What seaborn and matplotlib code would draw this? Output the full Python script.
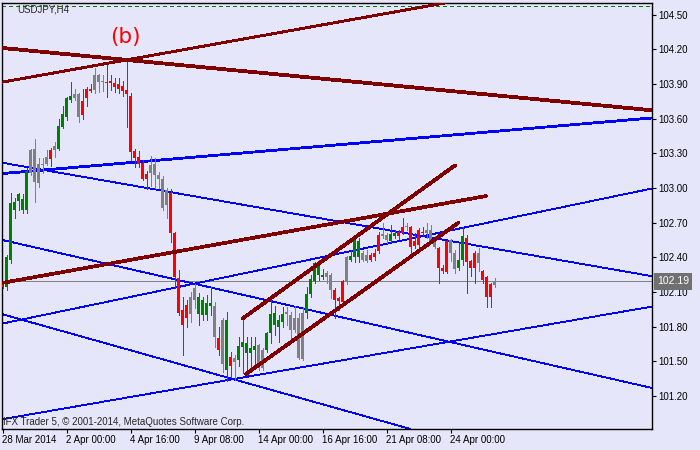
import matplotlib
matplotlib.use("Agg")
import matplotlib.pyplot as plt
import matplotlib.transforms as mtransforms
import numpy as np
import pandas as pd
import seaborn as sns

BG = "#E6E6FA"
sns.set_style("ticks", {"axes.facecolor": BG, "figure.facecolor": BG,
                        "axes.edgecolor": "black"})
plt.rcParams["font.family"] = ["Liberation Sans", "DejaVu Sans"]

# ---------------- data ----------------
symbol = "USDJPY,H4"
wave_label = "(b)"
wave_label_pos = (30.6, 104.304)
copyright_text = "IFX Trader 5, \u00a9 2001-2014, MetaQuotes Software Corp."
last_price = 102.19
top_dashed_level = 104.572

x_tick_bars = [0, 16, 32, 48, 64, 80, 96, 112]
x_tick_labels = ["28 Mar 2014", "2 Apr 00:00", "4 Apr 16:00", "9 Apr 08:00",
                 "14 Apr 00:00", "16 Apr 16:00", "21 Apr 08:00", "24 Apr 00:00"]
y_ticks = [104.50, 104.20, 103.90, 103.60, 103.30, 103.00,
           102.70, 102.40, 102.10, 101.80, 101.50, 101.20]

opens = [102.17, 102.14, 102.38, 102.81, 102.89, 102.81, 102.81, 103.33, 103.34, 103.21,
         103.21, 103.27, 103.33, 103.36, 103.34, 103.53, 103.61, 103.76, 103.81, 103.81,
         103.75, 103.86, 103.86, 103.98, 103.98, 103.93, 103.92, 103.93, 103.91, 103.90,
         103.88, 103.85, 103.80, 103.32, 103.27, 103.22, 103.12, 103.20, 103.21, 103.11,
         103.08, 102.98, 102.96, 102.61, 102.22, 101.94, 101.99, 102.06, 102.13, 101.91,
         101.90, 101.90, 101.98, 101.98, 101.70, 101.86, 101.42, 101.54, 101.53, 101.51,
         101.62, 101.57, 101.57, 101.60, 101.64, 101.60, 101.60, 101.74, 101.81, 101.80,
         101.84, 101.93, 101.90, 101.87, 101.87, 101.92, 101.92, 102.08, 102.19, 102.25,
         102.23, 102.26, 102.25, 102.12, 102.05, 102.19, 102.40, 102.38, 102.40, 102.40,
         102.44, 102.42, 102.42, 102.44, 102.59, 102.60, 102.59, 102.54, 102.58, 102.62,
         102.66, 102.67, 102.66, 102.54, 102.64, 102.62, 102.64, 102.64, 102.57, 102.48,
         102.31, 102.54, 102.55, 102.44, 102.31, 102.38, 102.57, 102.37, 102.44, 102.44,
         102.28, 102.23, 102.17, 102.16]
closes = [102.14, 102.40, 102.87, 102.88, 102.95, 102.90, 103.15, 103.13, 103.05, 103.04,
          103.20, 103.21, 103.25, 103.33, 103.54, 103.64, 103.78, 103.80, 103.78, 103.61,
          103.63, 103.78, 103.84, 103.85, 103.92, 103.92, 103.91, 103.91, 103.87, 103.86,
          103.84, 103.81, 103.31, 103.26, 103.21, 103.08, 103.08, 103.13, 103.11, 103.08,
          102.83, 102.85, 102.61, 102.23, 101.92, 101.81, 101.87, 101.91, 102.03, 102.06,
          102.03, 102.00, 102.00, 101.71, 101.60, 101.48, 101.86, 101.46, 101.49, 101.63,
          101.67, 101.66, 101.61, 101.63, 101.45, 101.44, 101.74, 101.91, 101.92, 101.86,
          101.91, 101.91, 101.77, 101.77, 101.53, 101.52, 102.08, 102.21, 102.35, 102.35,
          102.25, 102.23, 102.12, 102.03, 102.02, 102.01, 102.19, 102.41, 102.56, 102.54,
          102.38, 102.37, 102.38, 102.40, 102.45, 102.58, 102.55, 102.60, 102.61, 102.58,
          102.61, 102.66, 102.49, 102.50, 102.51, 102.61, 102.61, 102.54, 102.49, 102.31,
          102.28, 102.27, 102.44, 102.30, 102.38, 102.58, 102.36, 102.31, 102.31, 102.35,
          102.20, 102.06, 102.06, 102.19]
highs = [102.18, 102.42, 102.96, 102.91, 102.96, 102.95, 103.17, 103.34, 103.42, 103.26,
         103.26, 103.33, 103.35, 103.40, 103.60, 103.71, 103.79, 103.92, 103.86, 103.82,
         103.86, 103.87, 103.90, 104.04, 103.99, 103.98, 104.09, 103.98, 103.95, 103.95,
         103.93, 104.11, 103.82, 103.34, 103.32, 103.24, 103.15, 103.28, 103.26, 103.14,
         103.10, 103.00, 102.99, 102.62, 102.29, 102.06, 102.03, 102.10, 102.17, 102.09,
         102.06, 102.07, 102.14, 102.01, 101.80, 101.87, 101.93, 101.58, 101.55, 101.71,
         101.87, 101.71, 101.71, 101.71, 101.65, 101.61, 101.75, 102.03, 101.98, 101.90,
         101.97, 101.97, 101.93, 101.98, 101.92, 101.97, 102.14, 102.25, 102.36, 102.38,
         102.30, 102.28, 102.26, 102.13, 102.06, 102.20, 102.41, 102.46, 102.57, 102.57,
         102.45, 102.46, 102.44, 102.47, 102.62, 102.70, 102.61, 102.68, 102.64, 102.64,
         102.74, 102.70, 102.67, 102.61, 102.65, 102.66, 102.70, 102.68, 102.58, 102.49,
         102.33, 102.55, 102.56, 102.46, 102.52, 102.66, 102.59, 102.38, 102.45, 102.48,
         102.29, 102.24, 102.18, 102.22]
lows = [102.13, 102.12, 102.35, 102.74, 102.81, 102.78, 102.78, 103.11, 102.88, 103.01,
        103.13, 103.20, 103.19, 103.27, 103.33, 103.52, 103.59, 103.74, 103.76, 103.57,
        103.60, 103.71, 103.83, 103.82, 103.83, 103.84, 103.79, 103.85, 103.83, 103.82,
        103.80, 103.53, 103.24, 103.18, 103.18, 103.07, 102.99, 103.02, 103.00, 103.00,
        102.81, 102.74, 102.53, 102.13, 101.90, 101.55, 101.80, 101.84, 101.96, 101.81,
        101.86, 101.86, 101.90, 101.62, 101.55, 101.41, 101.33, 101.36, 101.34, 101.46,
        101.40, 101.38, 101.42, 101.45, 101.42, 101.42, 101.58, 101.66, 101.73, 101.67,
        101.80, 101.81, 101.69, 101.75, 101.52, 101.51, 101.87, 102.06, 102.18, 102.20,
        102.21, 102.18, 102.05, 101.87, 101.94, 102.00, 102.17, 102.37, 102.36, 102.36,
        102.37, 102.36, 102.37, 102.38, 102.44, 102.57, 102.52, 102.53, 102.57, 102.56,
        102.60, 102.64, 102.42, 102.48, 102.49, 102.59, 102.57, 102.53, 102.48, 102.18,
        102.26, 102.26, 102.37, 102.26, 102.29, 102.33, 102.09, 102.24, 102.18, 102.28,
        102.18, 101.97, 101.97, 102.14]
# r = bearish (red), g = bullish (green), n = neutral (gray)
candle_colors = list("rggggggnnnnnrnggggnnrrrnnnrrrrrrrrrrrnnnnnrrrrrnnggggnrngrnggggg"
                     "nngggggnnnnngggggnnrrrngggnnrrrnnggrrnrrrrnnnrrrnnggrrrnrrrn")

# trendline anchors: (bar, price), (bar, price), width
maroon_rays = [((0.125, 104.211), (162.375, 103.672), 2.0),
               ((0.125, 103.917), (59.375, 104.284), 1.35)]
maroon_segments = [((-0.2, 102.177), (120.875, 102.930)),
                   ((60.05, 101.870), (113.125, 103.195)),
                   ((60.875, 101.389), (113.95, 102.698))]
blue_thick_ray = ((0.125, 103.125), (162.375, 103.606))
blue_thin_rays = [((0.125, 103.217), (162.375, 102.236)),
                  ((0.125, 102.548), (162.375, 101.268)),
                  ((0.125, 101.905), (57.625, 101.345)),
                  ((0.125, 101.827), (162.375, 102.995)),
                  ((0.125, 100.999), (162.375, 101.973))]

x_limits = (-0.125, 162.375)
y_limits = (100.913, 104.601)

# ---------------- figure ----------------
fig = plt.figure(figsize=(7, 4.5), dpi=100)
ax = fig.add_axes([2 / 700, 21 / 450, 650 / 700, 426 / 450])
ax.set_facecolor(BG)

cmap = {"g": "#008000", "r": "#FF0000", "n": "#808080"}
df = pd.DataFrame({"bar": np.arange(len(opens)), "open": opens, "close": closes,
                   "high": highs, "low": lows, "kind": candle_colors})
df["color"] = df["kind"].map(cmap)
df["bottom"] = df[["open", "close"]].min(axis=1)
df["body"] = (df["close"] - df["open"]).abs().clip(lower=0.009)

# thin blue lines
for p1, p2 in blue_thin_rays:
    ax.axline(p1, p2, color="#0000FF", lw=0.6, antialiased=False, zorder=2)
ax.axline(blue_thick_ray[0], blue_thick_ray[1], color="#0000FF", lw=1.3,
          antialiased=False, zorder=2)

# current price line & top dashed line
ax.axhline(last_price, color="#808080", lw=0.6, antialiased=False, zorder=1.5)
ax.axhline(top_dashed_level, color="#008000", lw=0.7, ls=(0, (3.5, 3.5)), zorder=1.5,
           antialiased=False)

# candles
ax.vlines(df["bar"], df["low"], df["high"], colors=df["color"], lw=0.6,
          antialiased=False, zorder=3)
ax.bar(df["bar"], df["body"], bottom=df["bottom"], width=0.68, color=df["color"],
       lw=0, antialiased=False, zorder=3.1)

# maroon lines
for p1, p2, w in maroon_rays:
    ax.axline(p1, p2, color="#800000", lw=w, antialiased=False, zorder=4)
seg_rows = []
for i, (p1, p2) in enumerate(maroon_segments):
    seg_rows.append({"seg": i, "bar": p1[0], "price": p1[1]})
    seg_rows.append({"seg": i, "bar": p2[0], "price": p2[1]})
seg_df = pd.DataFrame(seg_rows)
sns.lineplot(data=seg_df, x="bar", y="price", units="seg", estimator=None,
             color="#800000", lw=1.9, ax=ax, zorder=4, antialiased=False,
             sort=False, legend=False)

ax.set_xlim(*x_limits)
ax.set_ylim(*y_limits)
ax.set_xlabel("")
ax.set_ylabel("")

ax.set_xticks(x_tick_bars)
ax.set_xticklabels(x_tick_labels)
for lab in ax.get_xticklabels():
    lab.set_ha("left")
ax.set_yticks(y_ticks)
ax.set_yticklabels([f"{v:.2f}" for v in y_ticks])
ax.yaxis.tick_right()
ax.tick_params(axis="x", direction="out", length=3, width=0.8, pad=1.5,
               labelsize=7, colors="black")
ax.tick_params(axis="y", direction="out", length=3, width=0.8, pad=1.5,
               labelsize=7, colors="black", right=True, left=False,
               labelright=True, labelleft=False)
for s in ax.spines.values():
    s.set_linewidth(1.0)
    s.set_color("black")

# texts
ax.text(wave_label_pos[0], wave_label_pos[1], wave_label, color="#FF0000",
        fontsize=15.5, ha="center", va="center", family=["DejaVu Sans"], zorder=5)
fig.text(17 / 700, 1 - 9.5 / 450, symbol, fontsize=7, va="center", ha="left")
fig.text(3 / 700, 1 - 422 / 450, copyright_text, fontsize=7, va="center", ha="left")

trans = mtransforms.blended_transform_factory(ax.transAxes, ax.transData)
ax.text(1.008, last_price, f"{last_price:.2f}", transform=trans, color="white",
        fontsize=7.5, ha="left", va="center", zorder=6, clip_on=False,
        bbox=dict(boxstyle="square,pad=0.3", fc="#707070", ec="none"))

fig.savefig("out.png", dpi=100, facecolor=BG)
